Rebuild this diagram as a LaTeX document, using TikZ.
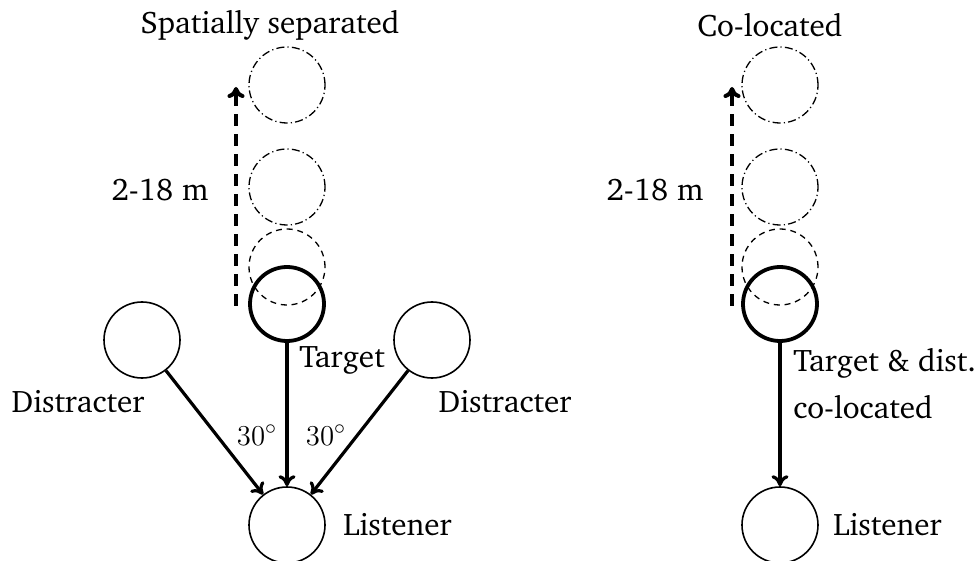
\documentclass[tikz,border=0pt]{standalone}
\usepackage[T1]{fontenc}
\usepackage{charter}
\usetikzlibrary{arrows.meta}
\begin{document}
\begin{tikzpicture}[x=0.5pt,y=-0.5pt,
  every node/.style={font=\fontsize{15.6}{19}\selectfont},
  src/.style={circle, draw, line width=0.8pt, minimum size=38pt, inner sep=0pt},
  tgt/.style={circle, draw, line width=1.9pt, minimum size=37pt, inner sep=0pt},
  farpos/.style={circle, draw, line width=0.65pt, dash pattern=on 4pt off 1.6pt on 0.6pt off 1.6pt, minimum size=38pt, inner sep=0pt},
  nearpos/.style={circle, draw, line width=0.65pt, dash pattern=on 3pt off 2.4pt, minimum size=38pt, inner sep=0pt},
  arr/.style={-{To[length=5.5pt,width=8.5pt]}, line width=1.6pt},
  moveto/.style={-{To[length=5.5pt,width=8.5pt]}, line width=2pt, dash pattern=on 6pt off 4pt},
  lbl/.style={inner sep=0pt}]
\useasboundingbox (0,0) rectangle (980,561);

% ---- spatially separated configuration ----
\node[lbl] (titleA) at (270,25) {Spatially separated};
\node[farpos]  (a18) at (287,85) {};
\node[farpos]  (a10) at (287,187) {};
\node[nearpos] (a4)  at (287,267) {};
\node[tgt]     (aT)  at (287,304) {};
\node[src]     (dL)  at (142,340) {};
\node[src]     (dR)  at (432,340) {};
\node[src]     (lisA) at (287,525) {};
\coordinate (aMoveStart) at (236,306);
\coordinate (aMoveEnd)   at (236,87);
\draw[moveto] (aMoveStart) -- (aMoveEnd);
\node[lbl] (distA) at (160,190) {2-18 m};
\draw[arr] (aT) -- (lisA);
\draw[arr] (dL) -- (lisA);
\draw[arr] (dR) -- (lisA);
\node[lbl] (tA)   at (342,360) {Target};
\node[lbl] (dLl)  at (78,402) {Distracter};
\node[lbl] (dRl)  at (505,402) {Distracter};
\node[lbl] (angL) at (257,435) {$30^\circ$};
\node[lbl] (angR) at (326,435) {$30^\circ$};
\node[lbl, anchor=west] (lAl) at (343,525) {Listener};

% ---- co-located configuration ----
\node[lbl] (titleB) at (770,25) {Co-located};
\node[farpos]  (b18) at (780,85) {};
\node[farpos]  (b10) at (780,187) {};
\node[nearpos] (b4)  at (780,267) {};
\node[tgt]     (bT)  at (780,304) {};
\node[src]     (lisB) at (780,525) {};
\coordinate (bMoveStart) at (732,306);
\coordinate (bMoveEnd)   at (732,87);
\draw[moveto] (bMoveStart) -- (bMoveEnd);
\node[lbl] (distB) at (655,190) {2-18 m};
\draw[arr] (bT) -- (lisB);
\node[lbl, anchor=west] (tB1) at (793,363) {Target \& dist.};
\node[lbl, anchor=west] (tB2) at (793,407) {co-located};
\node[lbl, anchor=west] (lBl) at (833,525) {Listener};
\end{tikzpicture}
\end{document}
